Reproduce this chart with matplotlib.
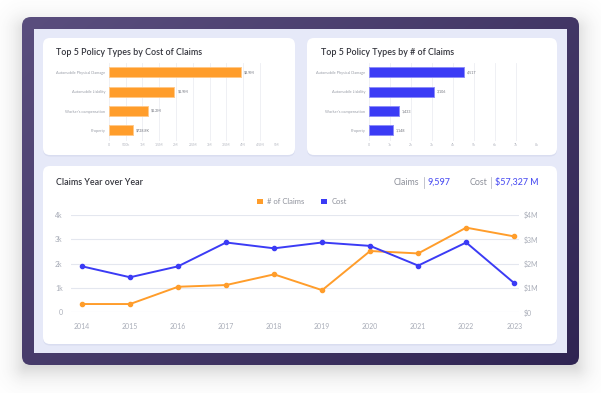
"""Claims dashboard mockup: two bar cards and a year-over-year line card."""

import numpy as np
import matplotlib.pyplot as plt
from matplotlib.colors import LinearSegmentedColormap
from matplotlib.patches import FancyBboxPatch, Rectangle, Patch

plt.rcParams["font.family"] = ["Lato", "DejaVu Sans"]

W, H = 601, 393

# Top 5 policy types
policy_types = ["Automobile Physical Damage", "Automobile Liability",
                "Worker's compensation", "Property"]
policy_cost = [3.94e6, 1.95e6, 1.16e6, 0.7288e6]
policy_cost_labels = ["$3.9M", "$1.9M", "$1.2M", "$728.8K"]
policy_claims = [4517, 3106, 1433, 1148]
policy_claims_labels = ["4,517", "3,106", "1,433", "1,148"]

cost_ticks = [0, 0.5e6, 1e6, 1.5e6, 2e6, 2.5e6, 3e6, 3.5e6, 4e6, 4.5e6, 5e6]
cost_tick_labels = ["0", "500k", "1M", "1.5M", "2M", "2.5M", "3M", "3.5M", "4M", "4.5M", "5M"]
claims_ticks = [0, 1000, 2000, 3000, 4000, 5000, 6000, 7000, 8000]
claims_tick_labels = ["0", "1k", "2k", "3k", "4k", "5k", "6k", "7k", "8k"]

# Year over year
years = [2014, 2015, 2016, 2017, 2018, 2019, 2020, 2021, 2022, 2023]
yearly_claims = [340, 340, 1050, 1120, 1560, 910, 2520, 2420, 3480, 3120]
yearly_cost = [1.89e6, 1.44e6, 1.89e6, 2.87e6, 2.63e6, 2.87e6, 2.73e6, 1.92e6, 2.87e6, 1.20e6]
left_ticks = [0, 1000, 2000, 3000, 4000]
left_tick_labels = ["0", "1k", "2k", "3k", "4k"]
right_ticks = [0, 1e6, 2e6, 3e6, 4e6]
right_tick_labels = ["$0", "$1M", "$2M", "$3M", "$4M"]
total_claims = "9,597"
total_cost = "$57,327 M"

ORANGE = "#ff9d2b"
BLUE = "#3b3bf5"
TITLE = "#34353d"
MUTED = "#a9adb8"


def px_axes(fig, x0, y0, x1, y1):
    """Add an axes given pixel box (top-left origin)."""
    return fig.add_axes([x0 / W, 1 - y1 / H, (x1 - x0) / W, (y1 - y0) / H])


def draw_backdrop(bg):
    """Shadow, purple device frame, screen and white cards."""
    yy, xx = np.mgrid[0:H, 0:W] + 0.5
    dx = np.maximum(np.maximum(26 - xx, xx - 575), 0)
    dy = np.maximum(np.maximum(30 - yy, yy - 366), 0)
    d = np.hypot(dx, dy)
    shadow = np.zeros((H, W, 4))
    shadow[..., :3] = 0.3
    shadow[..., 3] = 0.2 * np.exp(-(d / 13.0) ** 1.3)
    bg.imshow(shadow, extent=(0, W, H, 0), zorder=0, interpolation="bilinear")

    frame = FancyBboxPatch((22, 17), 557, 348, boxstyle="round,pad=0,rounding_size=9",
                           facecolor="none", edgecolor="none", zorder=1)
    bg.add_patch(frame)
    grad = (xx / W) * 0.55 + (yy / H) * 0.45
    cmap = LinearSegmentedColormap.from_list("frame", ["#5c5080", "#2d2250"])
    im = bg.imshow(grad, extent=(0, W, H, 0), cmap=cmap, zorder=1)
    im.set_clip_path(frame)

    bg.add_patch(Rectangle((34, 29), 533, 324, facecolor="#e6e9f8", edgecolor="none", zorder=2))

    for x0, y0, x1, y1 in [(43, 38, 295, 155), (307, 38, 557, 155), (43, 166, 557, 344)]:
        bg.add_patch(FancyBboxPatch((x0, y0 + 1.5), x1 - x0, y1 - y0,
                                    boxstyle="round,pad=0,rounding_size=7",
                                    facecolor="#d9ddf0", edgecolor="none", zorder=3))
        bg.add_patch(FancyBboxPatch((x0, y0), x1 - x0, y1 - y0,
                                    boxstyle="round,pad=0,rounding_size=7",
                                    facecolor="white", edgecolor="none", zorder=4))


def bar_card(ax, values, labels, color, edge, ticks, tick_labels, xmax):
    """Horizontal bar chart inside a top card."""
    ypos = list(range(len(policy_types)))
    ax.barh(ypos, values, height=0.52, color=color, edgecolor=edge, linewidth=0.7, zorder=3)
    for y, v, lab in zip(ypos, values, labels):
        ax.annotate(lab, (v, y), xytext=(2.2, 0), textcoords="offset points",
                    va="center", ha="left", fontsize=2.6, color="#6d707a")
    ax.set_xlim(0, xmax)
    ax.set_ylim(3.55, -0.48)
    ax.set_yticks(ypos, policy_types)
    ax.set_xticks(ticks, tick_labels)
    ax.tick_params(axis="y", length=0, pad=2.5, labelsize=2.8, labelcolor="#9a9ea8")
    ax.tick_params(axis="x", length=0, pad=1.5, labelsize=2.6, labelcolor="#b3b6bf")
    ax.grid(axis="x", color="#eceef3", linewidth=0.6, zorder=0)
    for s in ax.spines.values():
        s.set_visible(False)
    ax.set_facecolor("none")


def line_card(fig):
    """Claims and cost by year on twin axes."""
    ax = px_axes(fig, 71, 215, 519, 312.3)
    ax2 = ax.twinx()
    ax.plot(years, yearly_claims, color=ORANGE, linewidth=1.4, marker="o", markersize=3.0,
            clip_on=False, zorder=3)
    ax2.plot(years, yearly_cost, color=BLUE, linewidth=1.4, marker="o", markersize=3.0,
             clip_on=False, zorder=3)
    ax.set_xlim(2013.77, 2023.1)
    ax.set_ylim(0, 4000)
    ax2.set_ylim(0, 4e6)
    ax.set_xticks(years, [str(y) for y in years])
    ax.set_yticks(left_ticks, left_tick_labels)
    ax2.set_yticks(right_ticks, right_tick_labels)
    ax.tick_params(axis="x", length=0, pad=8, labelsize=5, labelcolor=MUTED)
    ax.tick_params(axis="y", length=0, pad=6, labelsize=5, labelcolor=MUTED)
    ax2.tick_params(axis="y", length=0, pad=3.6, labelsize=5, labelcolor=MUTED)
    ax.grid(axis="y", color="#e4e7ef", linewidth=0.8, zorder=0)
    for a in (ax, ax2):
        for s in a.spines.values():
            s.set_visible(False)
        a.set_facecolor("none")

    handles = [Patch(facecolor=ORANGE, label="# of Claims"), Patch(facecolor=BLUE, label="Cost")]
    fig.legend(handles=handles, loc="center", bbox_to_anchor=(302 / W, 1 - 201.7 / H),
               ncol=2, frameon=False, fontsize=5.5, labelcolor="#8e919b",
               handlelength=0.75, handleheight=0.75, handletextpad=0.6, columnspacing=2.2)


def main() -> None:
    """Build the dashboard and save it."""
    fig = plt.figure(figsize=(W / 100, H / 100), dpi=100)
    bg = fig.add_axes([0, 0, 1, 1])
    bg.set_xlim(0, W)
    bg.set_ylim(H, 0)
    bg.axis("off")
    draw_backdrop(bg)

    title_kw = dict(fontsize=6.4, color=TITLE, fontweight="semibold", va="center", ha="left", zorder=5)
    bg.text(56.5, 52.7, "Top 5 Policy Types by Cost of Claims", **title_kw)
    bg.text(321, 52.7, "Top 5 Policy Types by # of Claims", **title_kw)
    bg.text(56.5, 182.3, "Claims Year over Year", **title_kw)

    head_kw = dict(fontsize=6.4, va="center", zorder=5)
    bg.text(419, 182.3, "Claims", color="#8d909a", ha="right", **head_kw)
    bg.plot([424, 424], [177, 188], color="#b9bcc6", linewidth=0.6, zorder=5)
    bg.text(428, 182.3, total_claims, color="#4b4ef2", ha="left", fontweight="medium", **head_kw)
    bg.text(487, 182.3, "Cost", color="#8d909a", ha="right", **head_kw)
    bg.plot([491, 491], [177, 188], color="#b9bcc6", linewidth=0.6, zorder=5)
    bg.text(495, 182.3, total_cost, color="#4b4ef2", ha="left", fontweight="medium", **head_kw)

    ax1 = px_axes(fig, 108.7, 63, 276.7, 141)
    bar_card(ax1, policy_cost, policy_cost_labels, ORANGE, "#ffc98a",
             cost_ticks, cost_tick_labels, 5e6)
    ax2 = px_axes(fig, 368.7, 63, 537.3, 141)
    bar_card(ax2, policy_claims, policy_claims_labels, BLUE, "#8d8df8",
             claims_ticks, claims_tick_labels, 8000)

    line_card(fig)
    fig.savefig("out.png", dpi=100)


if __name__ == "__main__":
    main()
